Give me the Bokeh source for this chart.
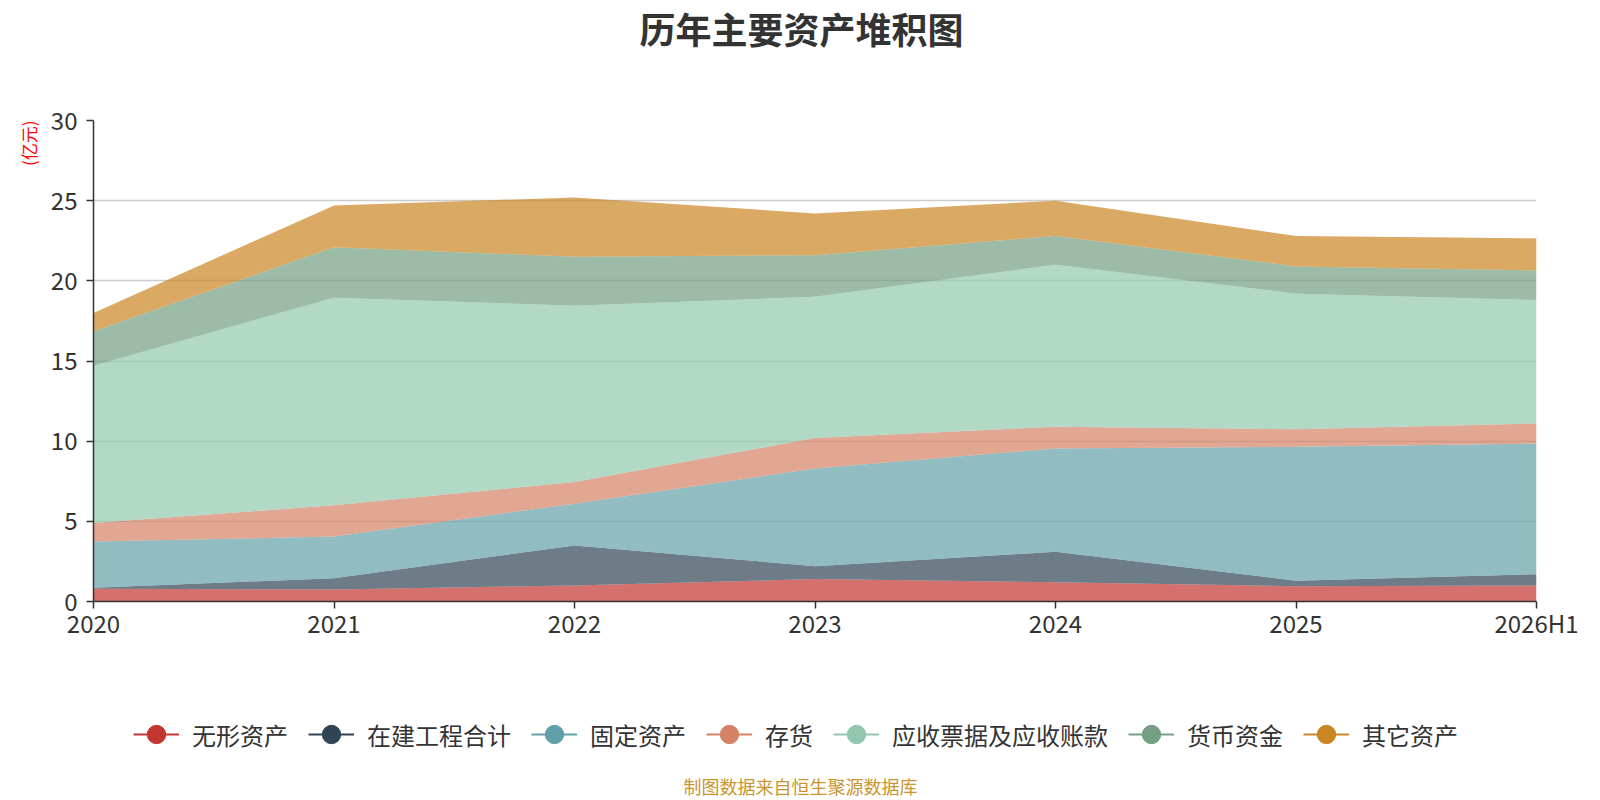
import math
from bokeh.plotting import figure
from bokeh.layouts import column
from bokeh.models import ColumnDataSource, Label, Legend, LegendItem, FixedTicker, Title
from bokeh.embed import file_html
from bokeh.resources import INLINE

years = ["2020", "2021", "2022", "2023", "2024", "2025", "2026H1"]
series_names = ["无形资产", "在建工程合计", "固定资产", "存货", "应收票据及应收账款", "货币资金", "其它资产"]
wuxing = [0.8, 0.75, 1.0, 1.4, 1.2, 0.95, 1.0]
zaijian = [0.05, 0.7, 2.5, 0.8, 1.9, 0.35, 0.7]
guding = [2.9, 2.6, 2.6, 6.1, 6.45, 8.35, 8.15]
cunhuo = [1.15, 1.95, 1.35, 1.9, 1.35, 1.1, 1.25]
yingshou = [9.8, 12.95, 11.0, 8.8, 10.1, 8.45, 7.7]
huobi = [2.15, 3.15, 3.05, 2.6, 1.8, 1.7, 1.85]
qita = [1.15, 2.6, 3.7, 2.6, 2.2, 1.9, 2.0]
y_ticks = [0, 5, 10, 15, 20, 25, 30]
colors = ["#c23531", "#2f4554", "#61a0a8", "#d48265", "#91c7ae", "#749f83", "#ca8622"]
title_text = "历年主要资产堆积图"
unit_text = "(亿元)"
footer_text = "制图数据来自恒生聚源数据库"

FONT = "Noto Sans CJK SC"
W = 1584
H_TOP, H_MAIN, H_BOT = 60, 586, 154
LEFT, RIGHT = 93, 48   # frame borders shared by all rows (column aligns frames)


def blank(h):
    f = figure(width=W, height=h, output_backend="svg", toolbar_location=None,
               x_axis_location=None, y_axis_location=None,
               x_range=(0, 1), y_range=(0, 1), min_border=0,
               min_border_left=LEFT, min_border_right=RIGHT)
    f.outline_line_color = None
    f.xgrid.grid_line_color = None
    f.ygrid.grid_line_color = None
    return f


# ---- title strip (screen x relative to frame left)
pt = blank(H_TOP)
pt.add_layout(Label(x=801 - LEFT, y=H_TOP - 27.5, x_units="screen", y_units="screen", text=title_text,
                    text_font=FONT, text_font_size="36px", text_font_style="bold",
                    text_color="#333333", text_align="center", text_baseline="middle"))

# ---- main chart
xs = list(range(len(years)))
data = {"x": xs}
for name, vals in zip(series_names, [wuxing, zaijian, guding, cunhuo, yingshou, huobi, qita]):
    data[name] = vals
source = ColumnDataSource(data)

p = figure(width=W, height=H_MAIN, output_backend="svg", toolbar_location=None,
           x_range=(0, len(years) - 1), y_range=(0, 30),
           min_border_left=LEFT, min_border_right=RIGHT, min_border_top=60, min_border_bottom=45)
p.outline_line_color = None

p.varea_stack(stackers=series_names, x="x", source=source, color=colors, fill_alpha=0.7)

p.xaxis.ticker = FixedTicker(ticks=xs)
p.xaxis.major_label_overrides = {i: y for i, y in enumerate(years)}
p.yaxis.ticker = FixedTicker(ticks=y_ticks)
for ax in [p.xaxis, p.yaxis]:
    ax.axis_line_color = "#333333"
    ax.axis_line_width = 1.5
    ax.major_tick_line_color = "#333333"
    ax.major_tick_line_width = 1.5
    ax.major_tick_out = 7
    ax.major_tick_in = 0
    ax.minor_tick_line_color = None
    ax.major_label_text_font = FONT
    ax.major_label_text_font_size = "24px"
    ax.major_label_text_color = "#333333"
p.xaxis.major_label_standoff = -4
p.yaxis.major_label_standoff = 9
p.xgrid.grid_line_color = None
p.ygrid.grid_line_color = "#cccccc"
p.ygrid.grid_line_width = 1.5

p.add_layout(Title(text=unit_text, align="right", text_font=FONT, text_font_size="17px",
                   text_font_style="normal", text_color="#ff0000", standoff=14, offset=0), "left")

# ---- legend + footer strip
pb = blank(H_BOT)
items = []
for name, c in zip(series_names, colors):
    r1 = pb.line(x=[math.nan], y=[math.nan], line_color=c, line_width=2)
    r2 = pb.scatter(x=[math.nan], y=[math.nan], marker="circle", fill_color=c, line_color=c, size=18)
    items.append(LegendItem(label=name, renderers=[r1, r2]))
legend = Legend(items=items, orientation="horizontal", location=(133 - LEFT, 41),
                glyph_width=46, glyph_height=50, label_standoff=13, spacing=20,
                padding=0, margin=0, border_line_color=None, background_fill_alpha=0,
                label_text_font=FONT, label_text_font_size="24px", label_text_color="#333333")
pb.add_layout(legend, "center")
pb.add_layout(Label(x=800 - LEFT, y=15, x_units="screen", y_units="screen", text=footer_text,
                    text_font=FONT, text_font_size="18px",
                    text_color="#c9952f", text_align="center", text_baseline="middle"))

layout = column(pt, p, pb, spacing=0)
open("out.html", "w").write(file_html(layout, INLINE))
